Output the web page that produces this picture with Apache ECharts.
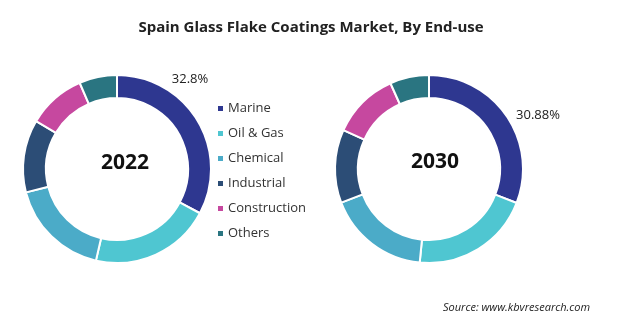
<!DOCTYPE html>
<html>
<head>
<meta charset="utf-8">
<script src="https://cdn.jsdelivr.net/npm/echarts@6/dist/echarts.min.js"></script>
<style>
  html, body { margin: 0; padding: 0; background: #fff; }
  #chart { width: 622px; height: 324px; }
</style>
</head>
<body>
<div id="chart"></div>
<script>
// End-use segments and their shares (%)
const categories = ['Marine', 'Oil & Gas', 'Chemical', 'Industrial', 'Construction', 'Others'];
const years = ['2022', '2030'];
const share2022 = [32.8, 20.8, 17.4, 12.5, 10.0, 6.5];
const share2030 = [30.88, 20.7, 17.6, 12.6, 11.5, 6.72];

const colors = ['#2E3790', '#4FC6D1', '#4BABC8', '#2C4D76', '#C6489F', '#2A7581'];
const FONT = '"Open Sans", "Noto Sans", sans-serif';

const chart = echarts.init(document.getElementById('chart'), null, { renderer: 'canvas' });

function ring(name, values, center, labelPos) {
  return {
    name: name,
    type: 'pie',
    center: center,
    radius: [71, 94],
    startAngle: 90,
    clockwise: true,
    avoidLabelOverlap: false,
    silent: true,
    itemStyle: { borderColor: '#fff', borderWidth: 2 },
    label: {
      show: true,
      position: 'outside',
      color: '#222',
      fontFamily: FONT,
      fontSize: 13,
      formatter: p => p.dataIndex === 0 ? values[0] + '%' : ''
    },
    labelLine: { show: false },
    labelLayout: p => p.dataIndex === 0 ? { x: labelPos[0], y: labelPos[1], align: 'center', verticalAlign: 'middle' } : {},
    data: categories.map((c, i) => ({ name: c, value: values[i] }))
  };
}

chart.setOption({
  animation: false,
  color: colors,
  title: [{
    text: 'Spain Glass Flake Coatings Market, By End-use',
    left: 'center',
    top: 15,
    textStyle: { fontFamily: FONT, fontSize: 15, fontWeight: 'bold', color: '#222' }
  }, {
    text: 'Source: www.kbvresearch.com',
    left: 438,
    top: 297,
    textStyle: { fontFamily: FONT, fontSize: 11, fontStyle: 'italic', fontWeight: 'normal', color: '#222' }
  }],
  legend: {
    orient: 'vertical',
    left: 211,
    top: 96,
    icon: 'rect',
    itemWidth: 7,
    itemHeight: 7,
    itemGap: 10,
    selectedMode: false,
    data: categories,
    textStyle: { fontFamily: FONT, fontSize: 13, color: '#333', padding: [0, 0, 0, -1], height: 15, lineHeight: 15 }
  },
  graphic: [
    { type: 'text', left: 101, top: 153, style: { text: years[0], font: 'bold 21px ' + FONT, fill: '#111' } },
    { type: 'text', left: 411, top: 152, style: { text: years[1], font: 'bold 21px ' + FONT, fill: '#111' } }
  ],
  series: [
    ring(years[0], share2022, [117, 169], [190, 79]),
    ring(years[1], share2030, [429, 169], [538, 115])
  ]
});
</script>
</body>
</html>
